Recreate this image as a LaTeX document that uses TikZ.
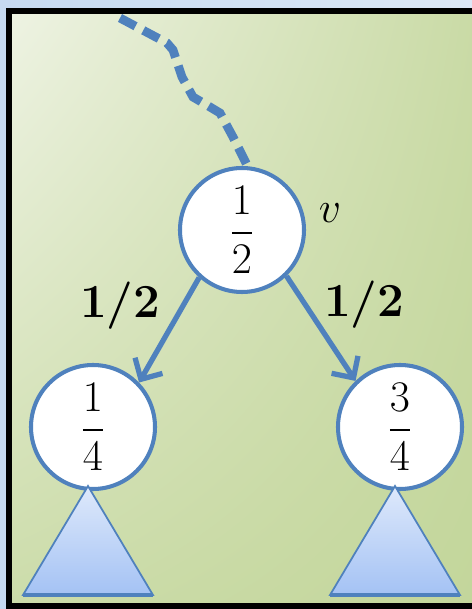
\documentclass[tikz,border=0pt]{standalone}
\usepackage{amsmath}
\usetikzlibrary{arrows.meta, positioning, shadings}
\definecolor{NodeBlue}{RGB}{79,129,189}
\definecolor{PaleGreen}{RGB}{238,243,227}
\definecolor{SageGreen}{RGB}{195,214,155}
\definecolor{SkyBlue}{RGB}{198,217,241}
\definecolor{TriTop}{RGB}{222,233,251}
\definecolor{TriBottom}{RGB}{164,194,244}

\begin{document}
\begin{tikzpicture}[
    vertex/.style={circle, draw=NodeBlue, line width=2.3pt, fill=white,
      minimum size=2.48cm, inner sep=0pt, font=\fontsize{23}{27}\selectfont},
    branch/.style={draw=NodeBlue, line width=3pt,
      -{Straight Barb[length=9pt,width=18pt]}},
    weight/.style={font=\fontsize{27}{31}\selectfont\bfseries},
    trail/.style={draw=NodeBlue, line width=5pt, dash pattern=on 10pt off 5pt},
    subtree/.style={draw=NodeBlue, line width=1pt, top color=TriTop, bottom color=TriBottom}
  ]
    \clip (0,0) rectangle (9.44,12.18);

    % Backdrop and frame
    \shade[left color=SkyBlue, right color=SkyBlue!60!white] (0,0) rectangle (9.44,12.18);
    \shade[upper left=PaleGreen, upper right=SageGreen!90!white,
      lower left=SageGreen!85!white, lower right=SageGreen] (0.18,0.06) rectangle (9.6,11.96);
    \draw[line width=3.4pt] (0.18,0.06) rectangle (9.6,11.96);

    % Nodes
    \node[vertex] (root) at (4.84,7.58) {$\dfrac{1}{2}$};
    \node[vertex, on grid, below left=3.94cm and 2.98cm of root] (left) {$\dfrac{1}{4}$};
    \node[vertex, on grid, below right=3.94cm and 3.16cm of root] (right) {$\dfrac{3}{4}$};
    \node[font=\fontsize{26}{30}\selectfont, on grid, above right=0.34cm and 1.76cm of root] (vname) {$v$};

    % Path down from the top
    \coordinate (top) at (2.40,11.82);
    \draw[trail] (top) -- (3.34,11.32) -- (3.46,11.18) -- (3.64,10.64) -- (3.86,10.24)
      -- (4.20,10.04) -- (4.40,9.92) -- (4.66,9.44) -- (root.85);

    % Branches
    \draw[branch] (root.228) -- node[weight, pos=0.27, left=8pt] {1/2} (left.44);
    \draw[branch] (root.314) -- node[weight, pos=0.27, right=6pt] {1/2} (right.134);

    % Subtrees (apex tucked under the circle)
    \draw[subtree] ([shift={(-0.1,0.1)}]left.south) -- ++(-1.3,-2.18) -- ++(2.6,0) -- cycle;
    \draw[NodeBlue, line width=2pt] ([xshift=-0.1cm]left.south) ++(-1.3,-2.08) -- ++(2.6,0);
    \draw[subtree] ([shift={(-0.1,0.1)}]right.south) -- ++(-1.3,-2.18) -- ++(2.6,0) -- cycle;
    \draw[NodeBlue, line width=2pt] ([xshift=-0.1cm]right.south) ++(-1.3,-2.08) -- ++(2.6,0);
\end{tikzpicture}
\end{document}
